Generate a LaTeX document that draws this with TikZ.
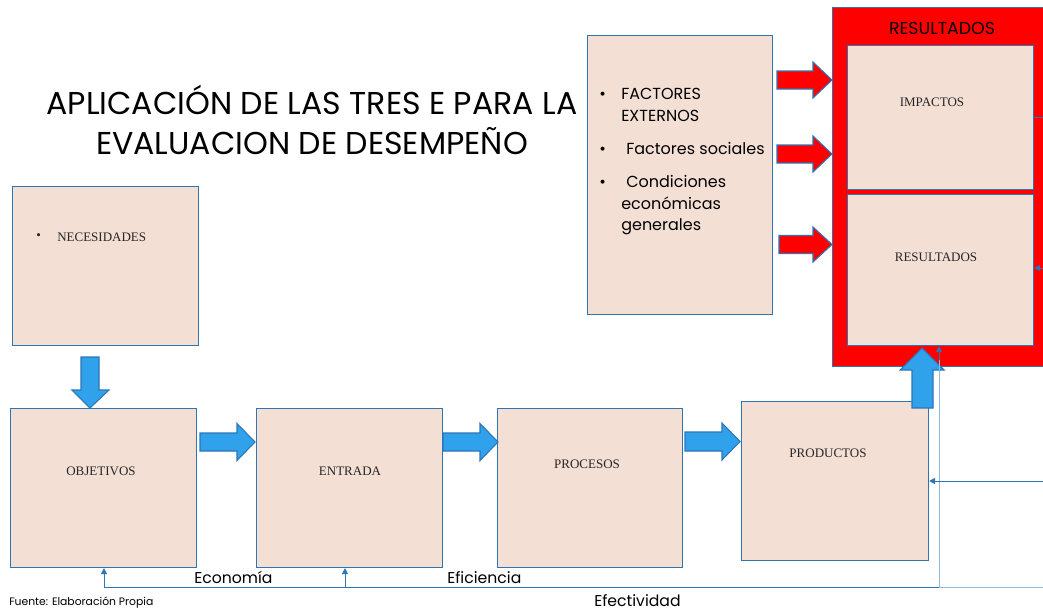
\documentclass[tikz,border=0pt]{standalone}
\usepackage{fontspec}
\setmainfont{Liberation Serif}
\newfontfamily\gothic{Poppins}
\usetikzlibrary{arrows.meta}
\definecolor{peach}{HTML}{F4DFD5}
\definecolor{bdr}{HTML}{2E75B6}
\definecolor{barrow}{HTML}{2FA2EB}
\definecolor{lightb}{HTML}{8FB9E3}
\definecolor{redbox}{HTML}{FF0000}
\newcommand\rblk[8]{\filldraw[fill=#1,draw=#2,line width=0.8pt] (#3,#6-#7)--(#4,#6-#7)--(#4,#6-#8)--(#5,#6)--(#4,#6+#8)--(#4,#6+#7)--(#3,#6+#7)--cycle;}
\begin{document}
\begin{tikzpicture}[x=0.75pt,y=-0.75pt,
  box/.style={draw=bdr,fill=peach,line width=0.8pt,inner sep=0pt,anchor=north west},
  lbl/.style={font=\fontsize{9.75}{11}\selectfont,text=black!85,inner sep=0pt},
  gtxt/.style={font=\gothic\fontsize{11.75}{14}\selectfont,inner sep=0pt,anchor=base west},
  ftxt/.style={font=\gothic\fontsize{12}{14}\selectfont,inner sep=0pt,anchor=base west},
  ttxt/.style={font=\gothic\fontsize{23.7}{28}\selectfont,inner sep=0pt,anchor=base},
  thinl/.style={draw=bdr,line width=0.75pt},
  tarrow/.style={thinl,-{Triangle[length=4.5pt,width=4.5pt]}}]
\useasboundingbox (0,0) rectangle (1043,611);
\fill[white] (0,0) rectangle (1043,611);

% title
\node[ttxt] (title1) at (312,114) {APLICACIÓN DE LAS TRES E PARA LA};
\node[ttxt] (title2) at (312,154) {EVALUACION DE DESEMPEÑO};

% left boxes
\node[box,minimum width=139.5pt,minimum height=119.25pt] (nec) at (12,186) {};
\node[lbl,anchor=west] (necb) at (36,237) {\textbullet};
\node[lbl,anchor=west] (nect) at (57,237) {NECESIDADES};

\node[box,minimum width=139.5pt,minimum height=119.25pt] (obj) at (10,408) {};
\node[lbl] (objt) at (101,471) {OBJETIVOS};
\node[box,minimum width=139.5pt,minimum height=119.25pt] (ent) at (256,408) {};
\node[lbl] (entt) at (350,471) {ENTRADA};
\node[box,minimum width=138.75pt,minimum height=119.25pt] (proc) at (497,408) {};
\node[lbl] (proct) at (587,464) {PROCESOS};
\node[box,minimum width=140.25pt,minimum height=119.25pt] (prod) at (741,401) {};
\node[lbl] (prodt) at (828,453) {PRODUCTOS};

% factors box
\node[box,minimum width=138.75pt,minimum height=209.25pt] (fact) at (587,35) {};
\node[ftxt] (fb1) at (599,99) {•};
\node[ftxt] (f1a) at (621,99) {FACTORES};
\node[ftxt] (f1b) at (621,121) {EXTERNOS};
\node[ftxt] (fb2) at (599,154) {•};
\node[ftxt] (f2) at (626,154) {Factores sociales};
\node[ftxt] (fb3) at (599,187) {•};
\node[ftxt] (f3a) at (626,187) {Condiciones};
\node[ftxt] (f3b) at (621,209) {económicas};
\node[ftxt] (f3c) at (621,230) {generales};

% red results box
\node[box,fill=redbox,minimum width=160.5pt,minimum height=269.25pt] (red) at (832,7) {};
\node[font=\gothic\fontsize{13}{15}\selectfont,inner sep=0pt,anchor=base] (redt) at (942,34) {RESULTADOS};
\node[box,minimum width=139.5pt,minimum height=108pt] (imp) at (847,45) {};
\node[lbl] (impt) at (932,102) {IMPACTOS};
\node[box,minimum width=139.5pt,minimum height=113.25pt] (resi) at (847,194) {};
\node[lbl] (resit) at (936,257) {RESULTADOS};

% blue block arrows
\filldraw[fill=barrow,draw=bdr,line width=0.8pt] (81,357)--(99,357)--(99,390)--(109,390)--(90,408)--(72,390)--(81,390)--cycle;
\rblk{barrow}{bdr}{200}{237}{255}{442}{9}{18.5}
\rblk{barrow}{bdr}{443}{480}{498}{442}{9}{18.5}
\rblk{barrow}{bdr}{685}{722}{740}{441.5}{9.5}{18.5}
\filldraw[fill=barrow,draw=bdr,line width=0.8pt] (912,408)--(933,408)--(933,370)--(944,370)--(922,348)--(900,370)--(912,370)--cycle;

% red block arrows
\rblk{redbox}{bdr}{777}{813}{832}{80}{9}{18}
\rblk{redbox}{bdr}{777}{813}{832}{154}{9}{18}
\rblk{redbox}{bdr}{779}{813}{832}{244.5}{9}{17.5}

% thin connectors
\coordinate (bL) at (104,587);
\coordinate (bM) at (345,587);
\coordinate (bV) at (939,587);
\coordinate (bR) at (1043,587);
\coordinate (bT) at (939,360);
\coordinate (pR) at (1043,481);
\coordinate (rR) at (1043,268);
\coordinate (iR) at (1043,117);
\draw[thinl] (bV) -- (bL);
\draw[thinl,draw=lightb] (bV) -- (bR);
\draw[tarrow] (bL) -- (bL |- obj.south);
\draw[tarrow] (bM) -- (bM |- ent.south);
\draw[thinl,draw=lightb] (bV) -- (bT);
\draw[tarrow] (bT) -- (bV |- resi.south);
\draw[tarrow] (pR) -- (pR -| prod.east);
\draw[tarrow] (rR) -- (rR -| resi.east);
\draw[thinl] (imp.east |- iR) -- (iR);

% labels
\node[gtxt] (eco) at (194,583) {Economía};
\node[gtxt] (efi) at (447,583) {Eficiencia};
\node[gtxt] (efe) at (594,606) {Efectividad};
\node[gtxt,font=\gothic\fontsize{8.1}{9}\selectfont] (fuente) at (9,605) {Fuente: Elaboración Propia};
\end{tikzpicture}
\end{document}
